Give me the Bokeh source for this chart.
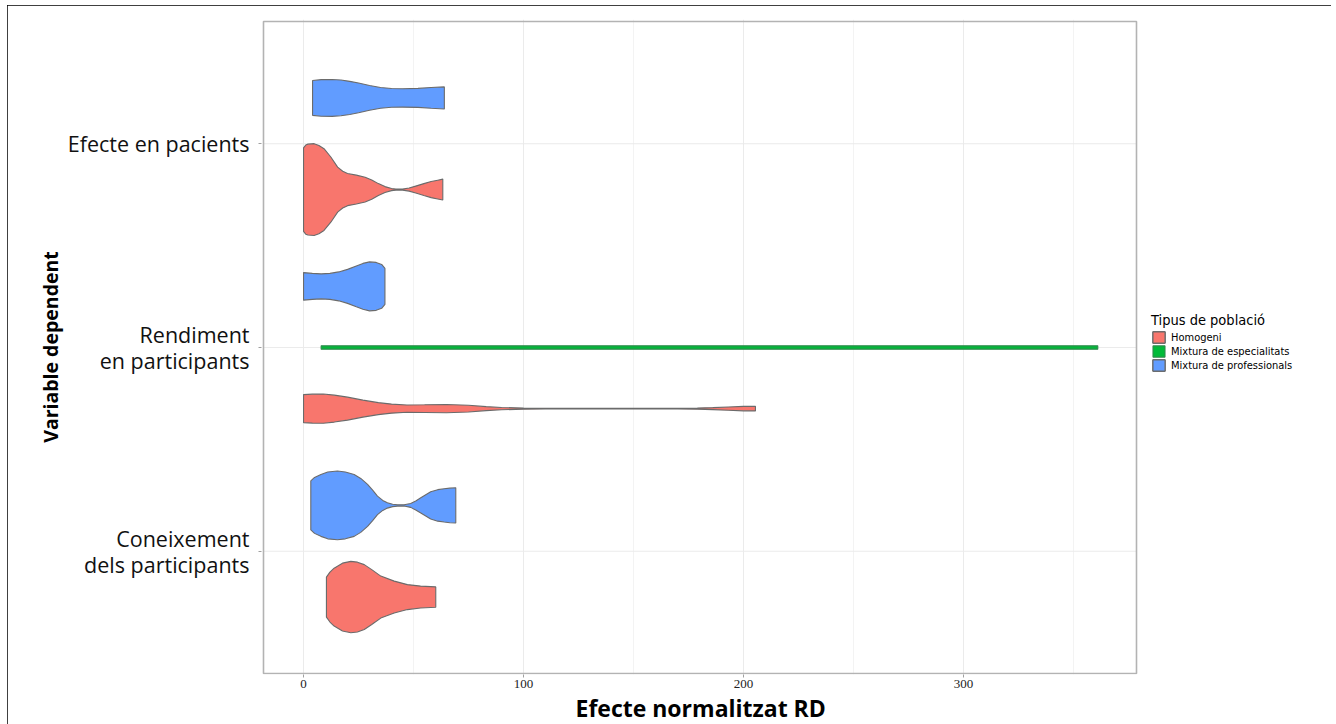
from bokeh.plotting import figure
from bokeh.models import Range1d, FixedTicker, Legend, LegendItem, Title
from bokeh.embed import file_html
from bokeh.resources import INLINE

# ---------------- data ----------------
categories = ["Coneixement\ndels participants", "Rendiment\nen participants", "Efecte en pacients"]
cat_pos = [1, 2, 3]
groups = ["Homogeni", "Mixtura de especialitats", "Mixtura de professionals"]
colors = ["#F8766D", "#00BA38", "#619CFF"]
outline_colors = ["#6b6b6b", "#2f8a4c", "#6b6b6b"]
x_ticks = [0, 100, 200, 300]
x_minor = [50, 150, 250, 350]
x_lo, x_hi = -18.2, 378.6      # visible data extent of the panel
y_lo, y_hi = 0.4, 3.6
x_title = "Efecte normalitzat RD"
y_title = "Variable dependent"
legend_title = "Tipus de població"

# Efecte en pacients
efecte_homog_x = [0, 1, 2, 4.8, 7, 9.3, 12.4, 15.5, 17.8, 20, 24, 28, 31, 34, 37, 40, 42, 45, 48, 51, 54.7, 58, 61, 63.3]
efecte_homog_d = [0.91, 0.97, 0.99, 1.0, 0.96, 0.89, 0.71, 0.49, 0.40, 0.35, 0.315, 0.27, 0.21, 0.13, 0.065, 0.022, 0.011, 0.011, 0.033, 0.076, 0.13, 0.175, 0.205, 0.228]
efecte_prof_x = [4.1, 8, 13, 17, 21, 25, 30, 35, 40, 45, 52, 58, 64]
efecte_prof_d = [0.38, 0.398, 0.402, 0.39, 0.36, 0.325, 0.27, 0.225, 0.205, 0.2, 0.207, 0.225, 0.24]

# Rendiment en participants
rend_homog_x = [0, 4, 9, 14, 20, 27, 34, 40, 47, 55, 65, 75, 83, 90, 100, 110, 130, 150, 170, 179, 186, 193, 200, 205.4]
rend_homog_d = [0.305, 0.315, 0.32, 0.293, 0.25, 0.185, 0.13, 0.098, 0.08, 0.083, 0.091, 0.072, 0.043, 0.026, 0.011, 0.007, 0.005, 0.005, 0.007, 0.011, 0.022, 0.035, 0.048, 0.05]
rend_espec_x = [8, 60, 120, 180, 240, 300, 361]
rend_espec_d = [0.036, 0.036, 0.036, 0.036, 0.036, 0.036, 0.036]
rend_prof_x = [0, 4, 8, 12, 16, 20, 24, 27, 30, 33, 35.5, 37]
rend_prof_d = [0.3, 0.283, 0.272, 0.283, 0.315, 0.37, 0.446, 0.5, 0.533, 0.522, 0.478, 0.39]

# Coneixement dels participants
con_homog_x = [10.4, 12, 13.9, 17.7, 21.5, 24.5, 27.6, 31, 35.1, 41.2, 47.2, 53.2, 60.1]
con_homog_d = [0.435, 0.543, 0.63, 0.739, 0.778, 0.761, 0.707, 0.598, 0.457, 0.348, 0.272, 0.239, 0.222]
con_prof_x = [3.3, 5, 7.9, 11, 15.4, 19, 23, 26, 29.1, 31.5, 33.6, 36, 38.1, 40.5, 42.7, 45.7, 48.7, 51, 53.3, 57.8, 61, 63.9, 66.5, 69.2]
con_prof_d = [0.533, 0.609, 0.674, 0.728, 0.748, 0.728, 0.674, 0.587, 0.457, 0.326, 0.202, 0.109, 0.059, 0.026, 0.015, 0.013, 0.043, 0.098, 0.165, 0.296, 0.343, 0.361, 0.376, 0.383]

violins = [
    # (category index, group index, number of groups in category, slot, x, density)
    (2, 0, 2, 0, efecte_homog_x, efecte_homog_d),
    (2, 2, 2, 1, efecte_prof_x, efecte_prof_d),
    (1, 0, 3, 0, rend_homog_x, rend_homog_d),
    (1, 1, 3, 1, rend_espec_x, rend_espec_d),
    (1, 2, 3, 2, rend_prof_x, rend_prof_d),
    (0, 0, 2, 0, con_homog_x, con_homog_d),
    (0, 2, 2, 1, con_prof_x, con_prof_d),
]

# ---------------- layout geometry ----------------
FRAME_W, FRAME_H = 1065, 656
PANEL_W, PANEL_H = 873, 653
sx = (x_hi - x_lo) / PANEL_W       # data units per pixel
sy = (y_hi - y_lo) / PANEL_H
xr0 = x_lo - 2 * sx
xr1 = xr0 + FRAME_W * sx
yr0 = y_lo - 1 * sy
yr1 = y_hi + 2 * sy

p = figure(width=1324, height=719, output_backend="svg", toolbar_location=None,
           x_range=Range1d(xr0, xr1), y_range=Range1d(yr0, yr1),
           min_border_left=254, min_border_right=5, min_border_top=14, min_border_bottom=49)
p.styles = {"margin-left": "7px", "margin-top": "5px",
            "outline": "2px solid black", "outline-offset": "-2px"}
p.background_fill_color = "white"
p.border_fill_color = "white"
p.outline_line_color = None

# horizontal grid lines (limited to the panel)
p.segment(x0=[x_lo] * 3, x1=[x_hi] * 3, y0=cat_pos, y1=cat_pos,
          line_color="#ebebeb", line_width=1)

DODGE = 0.9
HALF_SCALE = 0.2254
renderers = {g: [] for g in range(3)}
for cat, g, n, slot, xs, ds in violins:
    slot_w = DODGE / n
    center = cat_pos[cat] - DODGE / 2 + slot_w * (slot + 0.5)
    top = [center + d * HALF_SCALE for d in ds]
    bot = [center - d * HALF_SCALE for d in ds]
    px = list(xs) + list(xs)[::-1]
    py = top + bot[::-1]
    r = p.patch(px, py, fill_color=colors[g], fill_alpha=1.0,
                line_color=outline_colors[g], line_width=1.1)
    renderers[g].append(r)

# panel border
p.quad(left=[x_lo], right=[x_hi], bottom=[y_lo], top=[y_hi],
       fill_color=None, line_color="#b3b3b3", line_width=1.6)

# axes
p.xaxis.bounds = (x_lo, x_hi)
p.xaxis.ticker = FixedTicker(ticks=x_ticks, minor_ticks=x_minor)
p.xaxis.axis_line_color = None
p.xaxis.major_tick_line_color = "#a0a0a0"
p.xaxis.major_tick_in = 0
p.xaxis.major_tick_out = 3
p.xaxis.minor_tick_line_color = None
p.xaxis.major_label_text_font = "Liberation Serif"
p.xaxis.major_label_text_font_size = "13px"
p.xaxis.major_label_text_color = "#222222"
p.xaxis.major_label_standoff = 1

# x-axis title, centred under the panel (not under the whole frame)
xt = Title(text=x_title, align="left", offset=314, standoff=0,
           text_font="Open Sans", text_font_style="bold", text_font_size="23px",
           text_line_height=0.42, vertical_align="middle", text_color="black")
p.add_layout(xt, "below")

p.yaxis.bounds = (y_lo, y_hi)
p.yaxis.ticker = FixedTicker(ticks=cat_pos)
p.yaxis.major_label_overrides = {cat_pos[i]: categories[i] for i in range(3)}
p.yaxis.axis_line_color = None
p.yaxis.major_tick_line_color = "#a0a0a0"
p.yaxis.major_tick_in = 0
p.yaxis.major_tick_out = 3
p.yaxis.minor_tick_line_color = None
p.yaxis.major_label_text_font = "Open Sans"
p.yaxis.major_label_text_font_size = "21.5px"
p.yaxis.major_label_text_line_height = 0.88
p.yaxis.major_label_text_color = "#111111"
p.yaxis.major_label_standoff = 9
p.yaxis.axis_label = y_title
p.yaxis.axis_label_text_font = "Open Sans"
p.yaxis.axis_label_text_font_style = "bold"
p.yaxis.axis_label_text_font_size = "19.5px"
p.yaxis.axis_label_text_color = "black"
p.yaxis.axis_label_standoff = 1

# grids
p.xgrid.ticker = FixedTicker(ticks=x_ticks, minor_ticks=x_minor)
p.xgrid.grid_line_color = "#ebebeb"
p.xgrid.grid_line_width = 1
p.xgrid.minor_grid_line_color = "#f3f3f3"
p.xgrid.minor_grid_line_width = 1
p.ygrid.grid_line_color = None

# legend (inside the frame, to the right of the panel)
legend = Legend(items=[LegendItem(label=groups[g], renderers=renderers[g]) for g in range(3)],
                location=(890, 302), title=legend_title,
                orientation="vertical")
FONT_NARROW = "'DejaVu Sans Condensed', 'Liberation Sans', sans-serif"
legend.title_text_font = FONT_NARROW
legend.title_text_font_style = "normal"
legend.title_text_font_size = "14.5px"
legend.title_text_color = "black"
legend.title_standoff = 2
legend.label_text_font = FONT_NARROW
legend.label_text_font_size = "11px"
legend.label_text_color = "black"
legend.label_standoff = 5
legend.label_height = 14
legend.glyph_width = 15
legend.glyph_height = 14
legend.spacing = 0
legend.padding = 0
legend.margin = 0
legend.border_line_color = None
legend.background_fill_alpha = 0
p.add_layout(legend, "center")

open("out.html", "w").write(file_html(p, INLINE))
